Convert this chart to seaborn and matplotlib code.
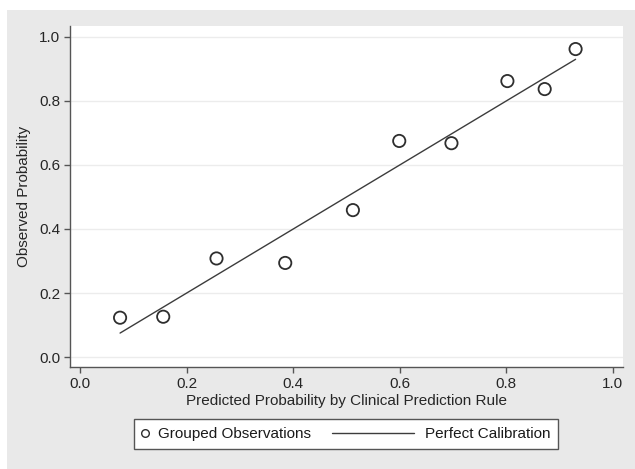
import matplotlib
matplotlib.use("Agg")
import matplotlib.pyplot as plt
import seaborn as sns
import pandas as pd
from matplotlib.lines import Line2D
from matplotlib.patches import Rectangle
from matplotlib.legend_handler import HandlerLine2D

# grouped observations (deciles of predicted risk)
predicted = [0.075, 0.156, 0.256, 0.385, 0.512, 0.599, 0.697, 0.802, 0.872, 0.930]
observed = [0.123, 0.126, 0.308, 0.294, 0.459, 0.675, 0.668, 0.862, 0.837, 0.962]

# perfect calibration line (y = x over the predicted range)
calib_x = [0.075, 0.930]
calib_y = [0.075, 0.930]

ticks = [0.0, 0.2, 0.4, 0.6, 0.8, 1.0]
tick_labels = ["0.0", "0.2", "0.4", "0.6", "0.8", "1.0"]

df_obs = pd.DataFrame({"pred": predicted, "obs": observed})
df_line = pd.DataFrame({"x": calib_x, "y": calib_y})

sns.set_style("white")
plt.rcParams["font.family"] = ["Liberation Sans", "DejaVu Sans"]
plt.rcParams["text.color"] = "#1a1a1a"
FS = 11

fig = plt.figure(figsize=(6.35, 4.69), dpi=100, facecolor="white")
# stata-like gray graph region
fig.patches.append(Rectangle((7 / 635, 0), 1, 1 - 10 / 469, transform=fig.transFigure,
                             facecolor="#e9e9e9", edgecolor="none", zorder=-10))

ax = fig.add_axes([70 / 635, 1 - 367 / 469, (623 - 70) / 635, (367 - 26) / 469])
ax.set_zorder(2)
ax.set_facecolor("white")

sns.lineplot(data=df_line, x="x", y="y", ax=ax, color="#3c3c3c", linewidth=1.0, zorder=3)
sns.scatterplot(data=df_obs, x="pred", y="obs", ax=ax, s=78, facecolor="none",
                edgecolor="#2e2e2e", linewidth=1.3, zorder=4)

ax.set_xlim(-0.019, 1.019)
ax.set_ylim(-0.031, 1.034)
ax.set_xticks(ticks)
ax.set_xticklabels(tick_labels)
ax.set_yticks(ticks)
ax.set_yticklabels(tick_labels)
ax.yaxis.grid(True, color="#ececec", linewidth=1.0)
ax.set_axisbelow(True)

for s in ["top", "right"]:
    ax.spines[s].set_visible(False)
for s in ["left", "bottom"]:
    ax.spines[s].set_color("#555555")
    ax.spines[s].set_linewidth(1.0)
ax.tick_params(axis="both", direction="out", length=4, width=1, color="#555555",
               labelsize=FS, pad=3, bottom=True, left=True)

ax.set_xlabel("Predicted Probability by Clinical Prediction Rule", fontsize=FS, labelpad=2)
ax.set_ylabel("Observed Probability", fontsize=FS, labelpad=6)


class LongLineHandler(HandlerLine2D):
    # legend line that runs further left than the (short) handle box
    def get_xdata(self, legend, xdescent, ydescent, width, height, fontsize):
        L = 3.86 * fontsize * 100 / 72
        return [width - L, width], [width / 2]


h_obs = Line2D([], [], linestyle="none", marker="o", markersize=5.5,
               markerfacecolor="none", markeredgecolor="#2e2e2e", markeredgewidth=1.0)
h_line = Line2D([], [], color="#3c3c3c", linewidth=1.0)

leg = fig.legend([h_obs, h_line], ["Grouped Observations", "Perfect Calibration"],
                 loc="center", bbox_to_anchor=(346 / 635, 1 - 434 / 469), ncol=2,
                 fontsize=FS, frameon=True, fancybox=False, borderpad=0.5,
                 handlelength=0.37, handletextpad=0.67, columnspacing=6.4,
                 borderaxespad=0, handler_map={h_line: LongLineHandler()})
leg.get_frame().set_edgecolor("#555555")
leg.get_frame().set_linewidth(1.0)
leg.get_frame().set_facecolor("white")
leg.get_frame().set_alpha(1)

fig.savefig("out.png", dpi=100, facecolor="white")
